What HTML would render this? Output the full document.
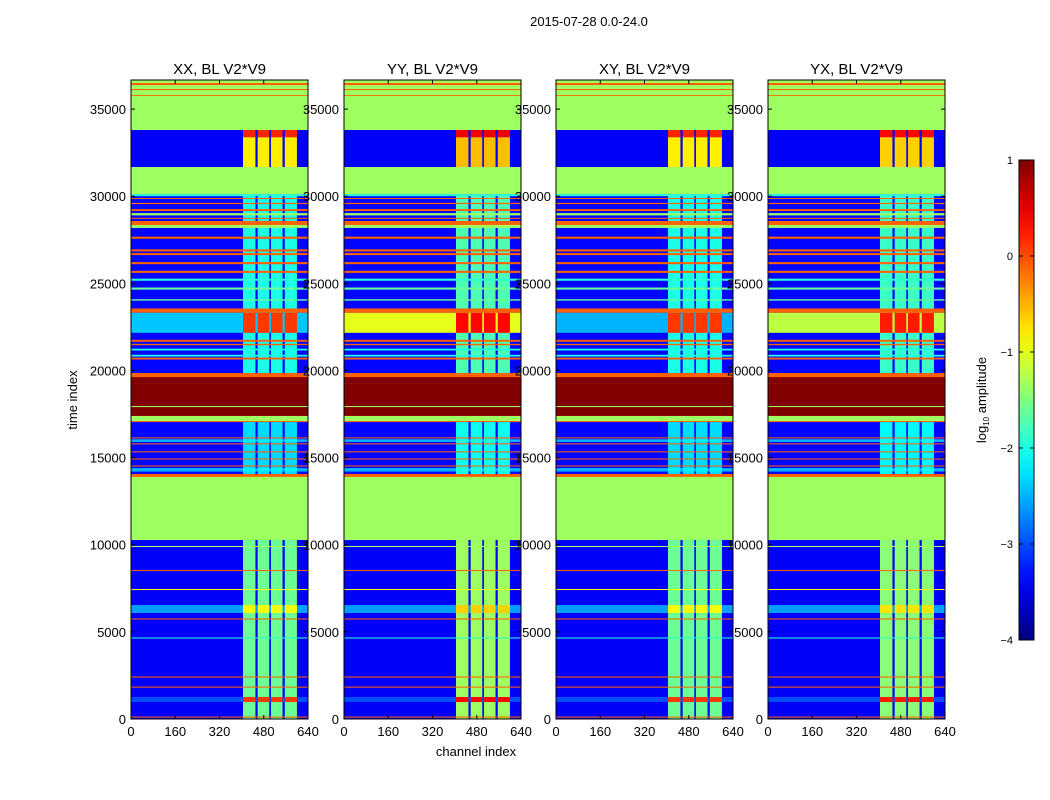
<!DOCTYPE html>
<html><head><meta charset="utf-8">
<style>
body{margin:0;background:#fff;}
svg{display:block;font-family:"Liberation Sans",sans-serif;}
</style></head>
<body>
<svg id="fig" width="1050" height="800" viewBox="0 0 1050 800">
<text x="589" y="26" font-size="13" text-anchor="middle">2015-07-28 0.0-24.0</text>
<text x="77" y="400" font-size="13" text-anchor="middle" transform="rotate(-90 77 400)">time index</text>
<text x="476" y="756" font-size="13" text-anchor="middle">channel index</text>
<g id="panels"></g>
<g id="cbar"></g>
</svg>
<script>
// ---- data ----
const panelTitles = ["XX, BL V2*V9","YY, BL V2*V9","XY, BL V2*V9","YX, BL V2*V9"];
const xTicks = [0,160,320,480,640];
const yTicks = [0,5000,10000,15000,20000,25000,30000,35000];
const cbarTicks = [1,0,-1,-2,-3,-4];
// time bands (drawn in order): start, end, background log-amplitude, stripe log-amplitude
const bandT0 = [35750,36380,36090,35750,33800,31670,33390,30120,19850,30000,29840,29550,29150,28900,28700,28350,28180,27560,26830,26620,26100,25600,25150,24640,24010,23310,22160,21650,21450,21150,20800,20630,19280,19620,17390,17900,17100,17040,14000,16100,15760,15300,14890,14490,13890,15900,14200,10270,0,9870,8490,7400,6080,5710,4620,2380,1800,975,80];
const bandT1 = [36670,36500,36150,35800,35750,33800,33800,31670,30120,30120,29900,29620,29260,29030,28760,28580,28350,27680,26950,26740,26220,25720,25270,24760,24090,23560,23310,21760,21530,21250,20900,20740,19850,19850,19280,17960,17390,17100,17040,16160,15820,15360,14950,14550,14060,16050,14400,13890,10270,9930,8550,7460,6540,5770,4680,2440,1860,1260,140];
const bandBg = [-1.35,-0.1,-0.1,-0.1,-1.35,-3.4,-3.4,-1.35,-3.35,-1.9,-0.1,-0.1,-0.1,-1.35,-0.1,-0.1,-1.35,-0.1,-0.1,-0.1,-0.1,-0.1,-1.9,-1.6,-1.6,-0.1,-2.4,-0.1,-0.1,-2.0,-2.0,-0.1,1.0,-0.1,1.0,-1.35,-1.35,-0.1,-3.35,-0.1,-0.1,-0.1,-0.1,-0.1,-0.1,-2.5,-2.5,-1.35,-3.4,-1.3,-0.1,-0.9,-2.6,-0.1,-1.9,-0.1,-0.1,-3.0,-0.1];
const bandStripe = [-1.35,-0.1,-0.1,-0.1,-1.35,-0.8,0.2,-1.35,-2.0,-1.9,-0.1,-0.1,-0.1,-1.35,-0.1,-0.1,-1.35,-0.1,-0.1,-0.1,-0.1,-0.1,-1.9,-1.6,-1.6,-0.1,0.1,-0.1,-0.1,-2.0,-2.0,-0.1,1.0,-0.1,1.0,-1.35,-1.35,-0.1,-2.3,-0.1,-0.1,-0.1,-0.1,-0.1,-0.1,-2.2,-2.2,-1.35,-1.6,-1.3,-0.1,-0.9,-0.9,-0.1,-1.9,-0.1,-0.1,0.1,-0.1];
// stripe channel segments
const stripeCh0 = [405,458,506,556];
const stripeCh1 = [450,500,548,600];
// per-panel adjustments
const panelStripeShift = [0,0.25,0,0.15];
const panelHotBg = [-2.4,-1.0,-2.5,-1.2];
const HOT_BAND = 26;

// ---- scales ----
const panelX = [131,344,556,768], PW = 177, PT = 80, PB = 719, TMAX = 36670;
const ns = "http://www.w3.org/2000/svg";
const xs = (i,c) => panelX[i] + c/640*PW;
const ys = t => PB - t/TMAX*(PB-PT);
function jet(v){
  let t = Math.max(0,Math.min(1,(v+4)/5));
  const f = x => Math.round(255*Math.max(0,Math.min(1,1.5-Math.abs(x))));
  return `rgb(${f(4*t-3)},${f(4*t-2)},${f(4*t-1)})`;
}
function mk(tag, attrs, parent){
  const e = document.createElementNS(ns, tag);
  for (const k in attrs) e.setAttribute(k, attrs[k]);
  parent.appendChild(e); return e;
}
const panels = document.getElementById('panels');
for (let p=0;p<4;p++){
  const g = mk('g',{},panels);
  
  
  const hm = mk('g',{},g);
  
  
  for (let b=0;b<bandT0.length;b++){
    const y0 = ys(bandT1[b]), y1 = ys(bandT0[b]);
    let bg = bandBg[b], st = bandStripe[b];
    if (b===HOT_BAND) bg = panelHotBg[p];
    if (st !== bg) st = st + panelStripeShift[p];
    const r = mk('rect',{x:xs(p,0),y:y0,width:PW,height:Math.max(0.8,y1-y0),fill:jet(bg)},hm);
    
    
    if (st !== bg){
      for (let s=0;s<stripeCh0.length;s++){
        const c = mk('rect',{x:xs(p,stripeCh0[s]),y:y0,width:xs(p,stripeCh1[s])-xs(p,stripeCh0[s]),height:Math.max(0.8,y1-y0),fill:jet(st)},hm);
        
        
      }
    }
  }
  const fr = mk('rect',{x:panelX[p],y:PT,width:PW,height:PB-PT,fill:'none',stroke:'#000','stroke-width':1},g);
  
  
  const tt = mk('text',{x:panelX[p]+PW/2,y:74,'font-size':15,'text-anchor':'middle'},g);
  tt.textContent = panelTitles[p];
  
  
  for (const c of xTicks){
    const x = xs(p,c);
    mk('line',{x1:x,x2:x,y1:PB,y2:PB-4,stroke:'#000'},g);
    mk('line',{x1:x,x2:x,y1:PT,y2:PT+4,stroke:'#000'},g);
    const l = mk('text',{x:x,y:736,'font-size':13,'text-anchor':'middle'},g);
    l.textContent = c;
    
    
  }
  for (const t of yTicks){
    const y = ys(t);
    mk('line',{x1:panelX[p],x2:panelX[p]+4,y1:y,y2:y,stroke:'#000'},g);
    mk('line',{x1:panelX[p]+PW,x2:panelX[p]+PW-4,y1:y,y2:y,stroke:'#000'},g);
    const l = mk('text',{x:panelX[p]-5,y:y+5,'font-size':13,'text-anchor':'end'},g);
    l.textContent = t;
    
    
  }
}
// colorbar
const cb = document.getElementById('cbar');
const defs = mk('defs',{},cb);
const lg = mk('linearGradient',{id:'jetg',x1:0,y1:1,x2:0,y2:0},defs);
for (let i=0;i<=20;i++){ mk('stop',{offset:i/20,'stop-color':jet(-4+5*i/20)},lg); }
mk('rect',{x:1019,y:160,width:15,height:480,fill:'url(#jetg)',stroke:'#000'},cb);
for (const v of cbarTicks){
  const y = 640 - (v+4)/5*480;
  mk('line',{x1:1019,x2:1023,y1:y,y2:y,stroke:'#000'},cb);
  mk('line',{x1:1030,x2:1034,y1:y,y2:y,stroke:'#000'},cb);
  const l = mk('text',{x:1013,y:y+4,'font-size':11,'text-anchor':'end'},cb);
  l.textContent = v<0 ? '\u2212'+(-v) : v;
  
  
}
const lab = mk('text',{x:986,y:400,'font-size':13,'text-anchor':'middle',transform:'rotate(-90 986 400)'},cb);
lab.innerHTML = 'log<tspan font-size="8" dy="3">10</tspan><tspan dy="-3"> amplitude</tspan>';


</script>
</body></html>
